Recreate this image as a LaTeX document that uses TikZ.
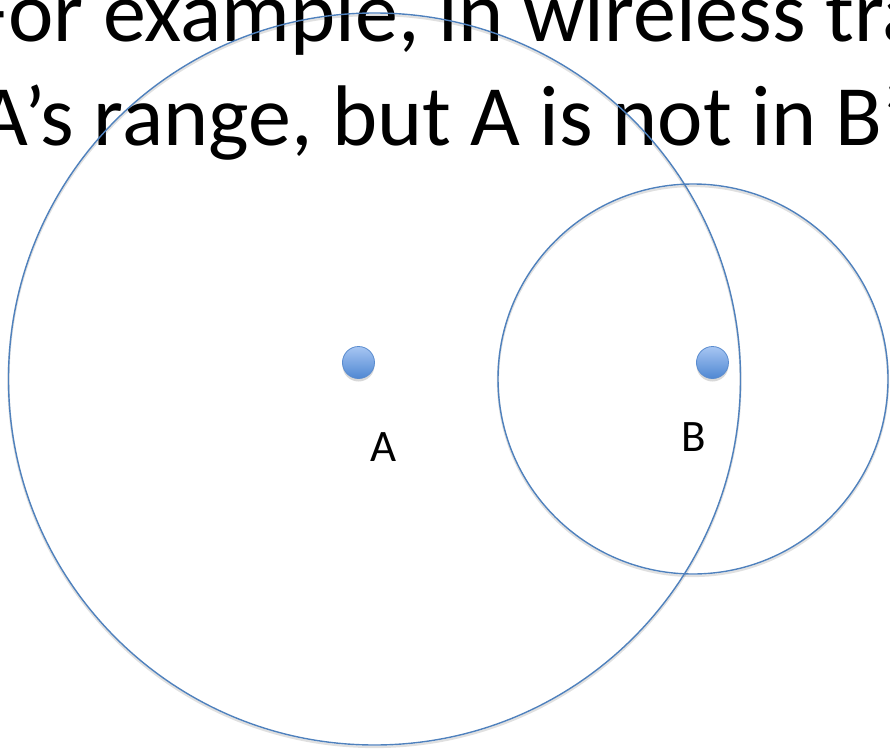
\documentclass[tikz,border=0pt]{standalone}
\usepackage{fontspec}
\setmainfont{Carlito}
\usetikzlibrary{shadows}
\definecolor{ringblue}{HTML}{4F81BD}
\definecolor{dottop}{HTML}{A7C6F2}
\definecolor{dotbot}{HTML}{4F87D3}
\definecolor{dotedge}{HTML}{5A8CCF}
\begin{document}
\begin{tikzpicture}[x=1pt,y=-1pt,
  ring/.style={draw=ringblue, line width=1.4pt},
  ringshade/.style={draw=black, opacity=0.12, line width=2.2pt},
  station/.style={circle, minimum size=32pt, inner sep=0pt, draw=dotedge, line width=0.8pt,
    top color=dottop, bottom color=dotbot,
    drop shadow={opacity=0.3, shadow xshift=0pt, shadow yshift=-3pt}},
  headline/.style={anchor=base west, inner sep=0pt, font=\fontsize{86}{103}\selectfont},
  lab/.style={font=\fontsize{45}{54}\selectfont, inner sep=0pt}]
\useasboundingbox (0,0) rectangle (890,749);
\fill[white] (0,0) rectangle (890,749);
\begin{scope}
\clip (0,0) rectangle (890,749);
\node[headline] (l1) at (-30,42) {For example, in wireless tra};
\node[headline] (l2) at (-22,145) {A’s range, but A is not in B’};
\draw[ringshade] (374.5,381) circle (366pt);
\draw[ringshade] (693,381) circle (195pt);
\draw[ring] (374.5,379) circle (366pt);
\draw[ring] (693,379) circle (195pt);
\node[station] (dotA) at (358.5,362.5) {};
\node[station] (dotB) at (712.5,362.5) {};
\node[lab] (labA) at (383.5,447) {A};
\node[lab] (labB) at (694,437.5) {B};
\end{scope}
\end{tikzpicture}
\end{document}
